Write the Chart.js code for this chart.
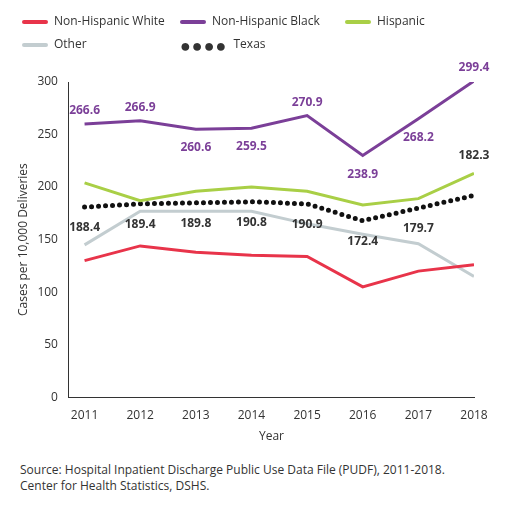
<!DOCTYPE html>
<html><head><meta charset="utf-8">
<script src="https://cdn.jsdelivr.net/npm/chart.js@4"></script>
<style>
body{margin:0;background:#fff;font-family:"Open Sans",sans-serif;}
#wrap{width:520px;height:448px;position:relative;}
#legend{position:absolute;left:0;top:0;width:520px;font-size:12px;color:#333;}
.it{position:absolute;white-space:nowrap;}
.ln{display:inline-block;width:26px;height:4px;vertical-align:middle;margin-right:6px;border-radius:2px;}
.dots{display:inline-block;vertical-align:middle;margin-right:6px;letter-spacing:1px;font-size:18px;line-height:10px;}
#src{font-size:12px;color:#333;margin:14px 0 0 20px;line-height:16px;}
</style></head><body>
<div id="wrap">
<div id="legend">
 <div class="it" style="left:22px;top:12px"><span class="ln" style="background:#e8344a"></span>Non-Hispanic White</div>
 <div class="it" style="left:180px;top:12px"><span class="ln" style="background:#7b3f98"></span>Non-Hispanic Black</div>
 <div class="it" style="left:345px;top:12px"><span class="ln" style="background:#a9cf46"></span>Hispanic</div>
 <div class="it" style="left:22px;top:35px"><span class="ln" style="background:#c3cdd0"></span>Other</div>
 <div class="it" style="left:180px;top:35px"><span class="dots">●●●●</span>Texas</div>
</div>
<canvas id="myChart"></canvas></div>
<div id="src">Source: Hospital Inpatient Discharge Public Use Data File (PUDF), 2011-2018.<br>Center for Health Statistics, DSHS.</div>
<script>
const years = [2011, 2012, 2013, 2014, 2015, 2016, 2017, 2018];
const white = [130, 144, 138, 135, 134, 105, 120, 126];
const black = [260, 263, 255, 256, 268, 230, 265, 301];
const hispanic = [204, 187, 196, 200, 196, 183, 189, 213];
const other = [145, 177, 177, 177, 165, 155, 146, 115];
const texas = [181, 184, 185, 186, 184, 168, 180, 192];
const blackLabels = ['266.6','266.9','260.6','259.5','270.9','238.9','268.2','299.4'];
const texasLabels = ['188.4','189.4','189.8','190.8','190.9','172.4','179.7','182.3'];

const labelPlugin = {
  id: 'vals',
  afterDatasetsDraw(chart) {
    const ctx = chart.ctx, x = chart.scales.x, y = chart.scales.y;
    ctx.save();
    ctx.font = 'bold 12px "Open Sans"';
    ctx.textAlign = 'center';
    const up = [true, true, false, false, true, false, false, true];
    blackLabels.forEach((t, i) => {
      ctx.fillStyle = '#7b3f98';
      const py = y.getPixelForValue(black[i]);
      ctx.fillText(t, x.getPixelForValue(years[i]), up[i] ? py - 10 : py + 22);
    });
    texasLabels.forEach((t, i) => {
      ctx.fillStyle = '#333';
      const py = y.getPixelForValue(texas[i]);
      ctx.fillText(t, x.getPixelForValue(years[i]), i == 7 ? py - 36 : py + 24);
    });
    ctx.restore();
  }
};

function ds(label, data, color) {
  return {label: label, data: data.map((v, i) => ({x: years[i], y: v})), borderColor: color,
    backgroundColor: color, borderWidth: 3, pointRadius: 0, tension: 0};
}
var data = {
  datasets: [
    ds('Non-Hispanic White', white, '#e8344a'),
    ds('Non-Hispanic Black', black, '#7b3f98'),
    ds('Hispanic', hispanic, '#a9cf46'),
    ds('Other', other, '#c3cdd0'),
    Object.assign(ds('Texas', texas, '#111'), {borderDash: [0, 7], borderWidth: 5, borderCapStyle: 'round'})
  ]
};
new Chart(document.getElementById('myChart'), {
  type: 'line', data: data, plugins: [labelPlugin],
  options: {
    animation: false, responsive: true, maintainAspectRatio: false,
    layout: {padding: {left: 12, right: 46, top: 82}},
    plugins: {legend: {display: false}, tooltip: {enabled: false}},
    scales: {
      x: {type: 'linear', min: 2010.72, max: 2018, grid: {display: false}, border: {color: '#333'},
        afterBuildTicks: s => { s.ticks = years.map(v => ({value: v})); },
        title: {display: true, text: 'Year', color: '#333', font: {family: 'Open Sans', size: 12}},
        ticks: {color: '#333', callback: v => String(v), font: {family: 'Open Sans', size: 12}}},
      y: {min: 0, max: 300, grid: {display: false}, border: {color: '#333'},
        title: {display: true, text: 'Cases per 10,000 Deliveries', color: '#333', font: {family: 'Open Sans', size: 12}},
        ticks: {stepSize: 50, color: '#333', font: {family: 'Open Sans', size: 12}}}
    }
  }
});
</script></body></html>
